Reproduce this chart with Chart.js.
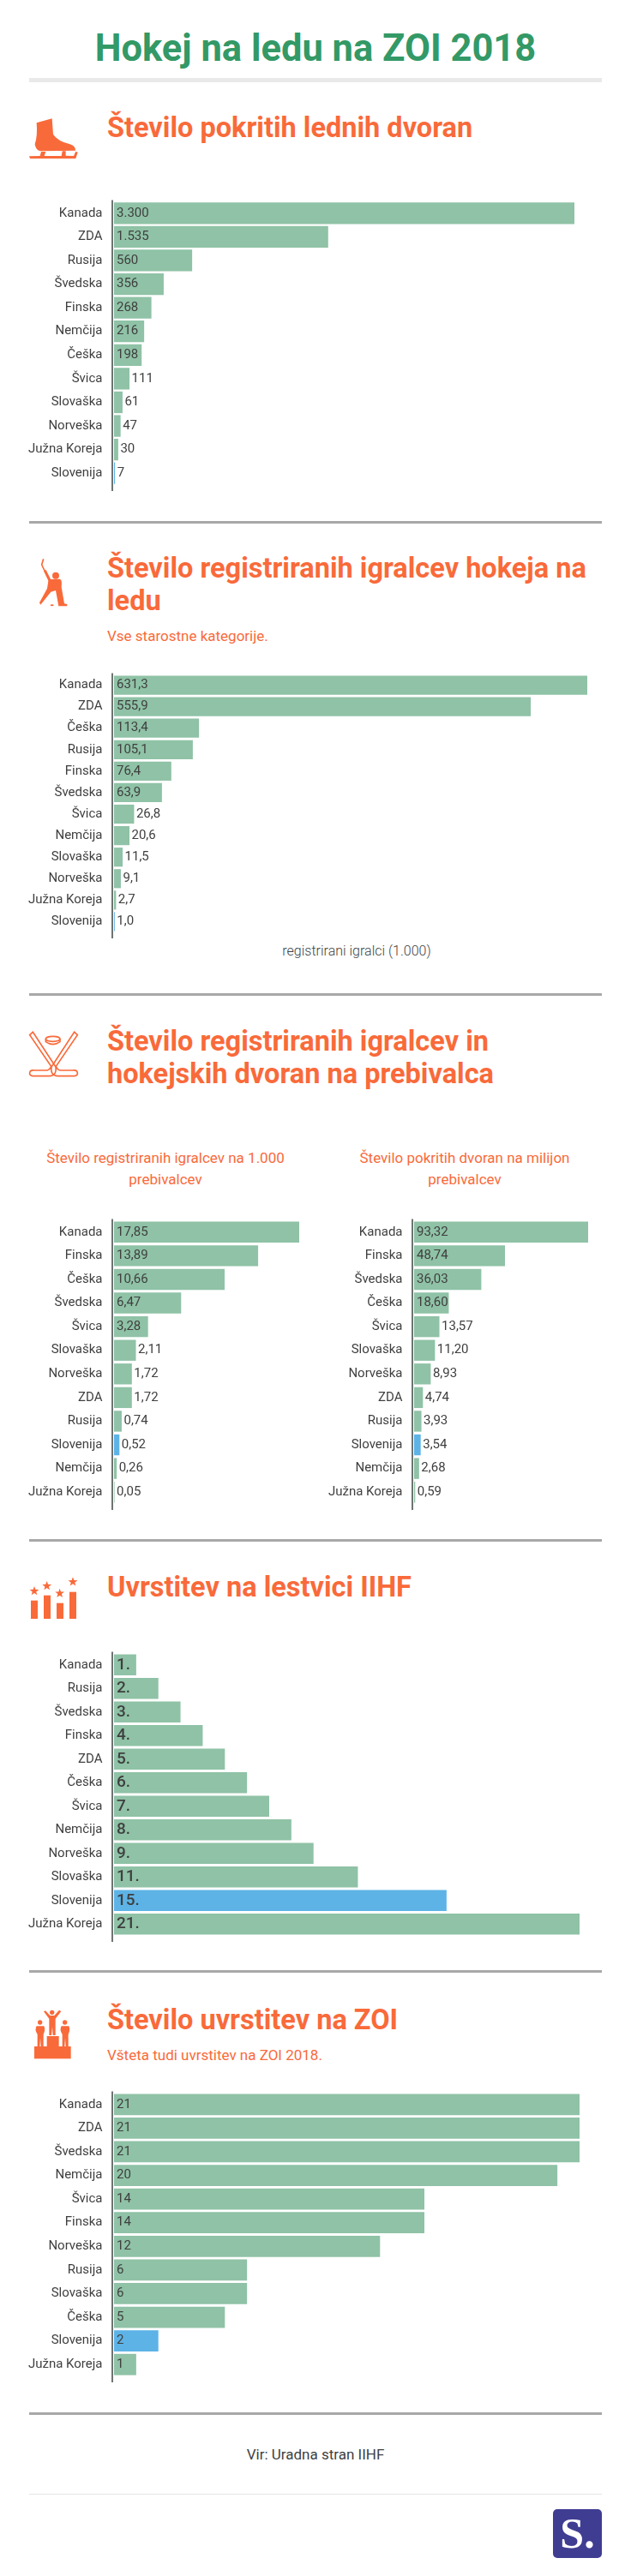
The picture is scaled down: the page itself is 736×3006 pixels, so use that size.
<!DOCTYPE html>
<html lang="sl">
<head>
<meta charset="utf-8">
<title>Hokej na ledu na ZOI 2018</title>
<script src="https://cdn.jsdelivr.net/npm/chart.js@4"></script>
<style>
    html, body { margin: 0; padding: 0; background: #fff; }
    body { position: relative; width: 736px; height: 3006px; overflow: hidden; font-family: Roboto, sans-serif; }
    body > * { position: absolute; }
    .naslov { left: 0; width: 736px; top: 30px; text-align: center; font-size: 43.5px; line-height: 54px; font-weight: 700; color: #339966; margin: 0; }
    .poglavje { left: 125px; font-size: 32.5px; line-height: 38px; font-weight: 700; color: #f96a3a; margin: 0; white-space: nowrap; }
    .pod { left: 125px; font-size: 17px; line-height: 22px; color: #f96a3a; white-space: nowrap; }
    .pod-graf { width: 320px; text-align: center; font-size: 17px; line-height: 25px; color: #f96a3a; }
    .crta { left: 34px; width: 668px; height: 2.5px; background: #a8a8a8; }
    .os { font-size: 16px; font-weight: 300; line-height: 20px; color: #3f3f3f; left: 316px; width: 200px; text-align: center; }
    .vir { left: 0; width: 736px; top: 2854px; text-align: center; font-size: 17px; line-height: 20px; color: #3f3f3f; }
    .logo { left: 645px; top: 2928px; width: 57px; height: 57px; border-radius: 5px; background: #3f3d92; color: #fff; font: 700 50px/57px "Liberation Serif", serif; text-align: center; }
    svg { fill: #f96a3a; }
    .obroba { fill: none; stroke: #f96a3a; stroke-width: 5; }
</style>
</head>
<body>

<h1 class="naslov">Hokej na ledu na ZOI 2018</h1>
<div class="crta" style="top:91px;height:5px;background:#e9e9e9"></div>

<svg style="left:20px;top:125px" width="90" height="70" viewBox="0 0 270 210">
    <path d="M68 55 L122 40 L126 95 Q140 118 185 130 Q205 137 204 152 L80 154 Q65 150 62 130 Q72 100 68 55 Z"/>
    <path d="M42 172 L80 171 L84 156 L100 156 L95 171 L155 171 L158 154 L170 154 L170 170 L198 171 L205 155 L212 158 L205 180 L45 180 Z"/>
</svg>
<h2 class="poglavje" style="top:130px">Število pokritih lednih dvoran</h2>
<canvas id="grafDvorane" style="left:0;top:231px"></canvas>
<div class="crta" style="top:608px"></div>

<svg style="left:20px;top:645px" width="90" height="70" viewBox="0 0 270 210">
    <path d="M92 22 L86 42 L110 92" style="fill:none;stroke:#f96a3a;stroke-width:5"/>
    <path d="M97 62 L118 105" style="fill:none;stroke:#f96a3a;stroke-width:9"/>
    <circle cx="135" cy="80" r="12"/>
    <path d="M110 93 L150 92 Q158 95 155 120 L165 178 L175 180 L175 187 L145 187 L135 132 L118 137 L82 182 L78 175 L105 125 Z"/>
    <ellipse cx="122" cy="184" rx="6" ry="3"/>
</svg>
<h2 class="poglavje" style="top:644px">Število registriranih igralcev hokeja na<br>ledu</h2>
<div class="pod" style="top:731px">Vse starostne kategorije.</div>
<canvas id="grafIgralci" style="left:0;top:783px"></canvas>
<div class="os" style="top:1100px">registrirani igralci (1.000)</div>
<div class="crta" style="top:1159px"></div>

<svg style="left:20px;top:1195px" width="90" height="70" viewBox="0 0 270 210">
    <path class="obroba" d="M44 38 L55 28 L135 150 Q140 178 115 182 L55 182 Q42 180 44 170 Q46 160 60 162 L105 162 Q115 160 119 148 Z"/>
    <path class="obroba" d="M211 38 L200 28 L120 150 Q115 178 140 182 L200 182 Q213 180 211 170 Q209 160 195 162 L150 162 Q140 160 136 148 Z"/>
    <ellipse class="obroba" cx="125" cy="52" rx="25" ry="9"/>
    <path class="obroba" d="M100 52 L100 62 Q125 80 150 62 L150 52"/>
</svg>
<h2 class="poglavje" style="top:1196px">Število registriranih igralcev in<br>hokejskih dvoran na prebivalca</h2>
<div class="pod-graf" style="left:33px;top:1339px">Število registriranih igralcev na 1.000 prebivalcev</div>
<div class="pod-graf" style="left:382px;top:1339px">Število pokritih dvoran na milijon prebivalcev</div>
<canvas id="grafIgralciPrebivalci" style="left:0;top:1420px"></canvas>
<canvas id="grafDvoranePrebivalci" style="left:350px;top:1420px"></canvas>
<div class="crta" style="top:1796px"></div>

<svg style="left:20px;top:1830px" width="90" height="70" viewBox="0 0 270 210">
    <defs>
        <path id="zvezda" d="M0 -17 L4.1 -5.7 L16.2 -5.3 L6.7 2.2 L10 13.8 L0 7 L-10 13.8 L-6.7 2.2 L-16.2 -5.3 L-4.1 -5.7 Z"/>
    </defs>
    <rect x="48" y="113" width="24" height="64"/>
    <rect x="93" y="95" width="24" height="82"/>
    <rect x="138" y="122" width="24" height="55"/>
    <rect x="183" y="83" width="24" height="94"/>
    <use href="#zvezda" x="60" y="80"/>
    <use href="#zvezda" x="104" y="62"/>
    <use href="#zvezda" x="149" y="88"/>
    <use href="#zvezda" x="195" y="48"/>
</svg>
<h2 class="poglavje" style="top:1833px">Uvrstitev na lestvici IIHF</h2>
<canvas id="grafLestvica" style="left:0;top:1925px"></canvas>
<div class="crta" style="top:2299px"></div>

<svg style="left:20px;top:2340px" width="90" height="70" viewBox="0 0 270 210">
    <rect x="60" y="144" width="128" height="43"/>
    <rect x="104" y="108" width="42" height="36"/>
    <circle cx="122" cy="25" r="8"/>
    <path d="M93 22 L99 19 L115 36 L130 36 L147 17 L154 21 L134 47 L134 105 L125 105 L123 75 L120 105 L112 105 L112 47 Z"/>
    <circle cx="80" cy="60" r="8"/>
    <path d="M68 73 L94 73 Q100 85 92 102 L92 144 L83 144 L81 115 L79 144 L71 144 L71 102 Q60 85 68 73 Z"/>
    <circle cx="167" cy="60" r="8"/>
    <path d="M155 73 L181 73 Q187 85 179 102 L179 144 L170 144 L168 115 L166 144 L158 144 L158 102 Q147 85 155 73 Z"/>
</svg>
<h2 class="poglavje" style="top:2338px">Število uvrstitev na ZOI</h2>
<div class="pod" style="top:2387px">Všteta tudi uvrstitev na ZOI 2018.</div>
<canvas id="grafZoi" style="left:0;top:2438px"></canvas>
<div class="crta" style="top:2815px"></div>

<div class="vir">Vir: Uradna stran IIHF</div>
<div class="crta" style="top:2910px;height:1px;background:#e5e5e5"></div>
<div class="logo">S.</div>

<script>
// pokrite dvorane
const drzaveDvorane = ['Kanada', 'ZDA', 'Rusija', 'Švedska', 'Finska', 'Nemčija', 'Češka', 'Švica', 'Slovaška', 'Norveška', 'Južna Koreja', 'Slovenija'];
const steviloDvoran = [3300, 1535, 560, 356, 268, 216, 198, 111, 61, 47, 30, 7];

// registrirani igralci (1.000)
const drzaveIgralci = ['Kanada', 'ZDA', 'Češka', 'Rusija', 'Finska', 'Švedska', 'Švica', 'Nemčija', 'Slovaška', 'Norveška', 'Južna Koreja', 'Slovenija'];
const steviloIgralcev = [631.3, 555.9, 113.4, 105.1, 76.4, 63.9, 26.8, 20.6, 11.5, 9.1, 2.7, 1.0];

// igralci na 1.000 prebivalcev
const drzaveIgralciPreb = ['Kanada', 'Finska', 'Češka', 'Švedska', 'Švica', 'Slovaška', 'Norveška', 'ZDA', 'Rusija', 'Slovenija', 'Nemčija', 'Južna Koreja'];
const igralciNaPrebivalca = [17.85, 13.89, 10.66, 6.47, 3.28, 2.11, 1.72, 1.72, 0.74, 0.52, 0.26, 0.05];

// dvorane na milijon prebivalcev
const drzaveDvoranePreb = ['Kanada', 'Finska', 'Švedska', 'Češka', 'Švica', 'Slovaška', 'Norveška', 'ZDA', 'Rusija', 'Slovenija', 'Nemčija', 'Južna Koreja'];
const dvoraneNaPrebivalca = [93.32, 48.74, 36.03, 18.60, 13.57, 11.20, 8.93, 4.74, 3.93, 3.54, 2.68, 0.59];

// lestvica IIHF
const drzaveLestvica = ['Kanada', 'Rusija', 'Švedska', 'Finska', 'ZDA', 'Češka', 'Švica', 'Nemčija', 'Norveška', 'Slovaška', 'Slovenija', 'Južna Koreja'];
const uvrstitevIihf = [1, 2, 3, 4, 5, 6, 7, 8, 9, 11, 15, 21];

// uvrstitve na ZOI
const drzaveZoi = ['Kanada', 'ZDA', 'Švedska', 'Nemčija', 'Švica', 'Finska', 'Norveška', 'Rusija', 'Slovaška', 'Češka', 'Slovenija', 'Južna Koreja'];
const uvrstitveZoi = [21, 21, 21, 20, 14, 14, 12, 6, 6, 5, 2, 1];

const ZELENA = '#8fc2a6';
const MODRA = '#5db3e6';
const TEMNA = '#3f3f3f';

Chart.defaults.font.family = 'Roboto, sans-serif';

// vrednosti ob stolpcih: znotraj, ce je stolpec dovolj dolg, sicer desno od njega
const oznakePlugin = {
    id: 'oznake',
    afterDatasetsDraw(chart, args, opts) {
        const ctx = chart.ctx;
        const bars = chart.getDatasetMeta(0).data;
        ctx.save();
        ctx.font = opts.pisava;
        ctx.fillStyle = TEMNA;
        ctx.textBaseline = 'middle';
        bars.forEach((bar, i) => {
            const tekst = opts.format(chart.data.datasets[0].data[i]);
            const w = ctx.measureText(tekst).width;
            const znotraj = w + 3 < bar.x - chart.chartArea.left;
            const x = znotraj ? chart.chartArea.left + 3 : bar.x + 2.5;
            ctx.fillText(tekst, x, bar.y);
        });
        // navpicna os je daljsa od zadnjega stolpca
        ctx.strokeStyle = '#3c4643';
        ctx.lineWidth = 1.5;
        ctx.beginPath();
        ctx.moveTo(chart.chartArea.left - 2, chart.chartArea.top - 1.5);
        ctx.lineTo(chart.chartArea.left - 2, chart.chartArea.bottom + 7);
        ctx.stroke();
        ctx.restore();
    }
};

function narisiGraf(id, drzave, vrednosti, konec, zgoraj, spodaj, debelina, format, pisava) {
    const canvas = document.getElementById(id);
    canvas.width = konec;
    canvas.height = spodaj + 10;
    canvas.style.width = canvas.width + 'px';
    canvas.style.height = canvas.height + 'px';

    return new Chart(canvas, {
        type: 'bar',
        data: {
            labels: drzave,
            datasets: [{
                data: vrednosti,
                backgroundColor: drzave.map(d => d === 'Slovenija' ? MODRA : ZELENA),
                categoryPercentage: 1,
                barPercentage: debelina
            }]
        },
        options: {
            indexAxis: 'y',
            responsive: false,
            animation: false,
            devicePixelRatio: 1,
            layout: { padding: { top: zgoraj, bottom: 10 } },
            scales: {
                x: { display: false, min: 0, max: Math.max(...vrednosti) },
                y: {
                    grid: { display: false, drawTicks: false },
                    border: { display: false },
                    ticks: { color: TEMNA, padding: 13.5, font: { size: 15 }, autoSkip: false },
                    // sirina osi je fiksna, ticks.padding pa ne sme dodajati prostora zgoraj in spodaj
                    afterFit: scale => {
                        scale.width = 133;
                        scale.paddingTop = 0;
                        scale.paddingBottom = 0;
                    }
                }
            },
            plugins: {
                legend: { display: false },
                tooltip: { enabled: false },
                title: { display: false },
                oznake: { format: format, pisava: pisava }
            }
        },
        plugins: [oznakePlugin]
    });
}

const tisoc = v => v.toLocaleString('de-DE');
const enoMesto = v => v.toLocaleString('de-DE', { minimumFractionDigits: 1, maximumFractionDigits: 1 });
const dveMesti = v => v.toLocaleString('de-DE', { minimumFractionDigits: 2, maximumFractionDigits: 2 });
const PISAVA = '15px Roboto, sans-serif';

narisiGraf('grafDvorane', drzaveDvorane, steviloDvoran, 670, 4, 335, 0.917, tisoc, PISAVA);
narisiGraf('grafIgralci', drzaveIgralci, steviloIgralcev, 685, 4, 305, 0.885, enoMesto, PISAVA);
narisiGraf('grafIgralciPrebivalci', drzaveIgralciPreb, igralciNaPrebivalca, 349, 4, 335, 0.884, dveMesti, PISAVA);
narisiGraf('grafDvoranePrebivalci', drzaveDvoranePreb, dvoraneNaPrebivalca, 336, 4, 335, 0.884, dveMesti, PISAVA);
narisiGraf('grafLestvica', drzaveLestvica, uvrstitevIihf, 676, 4, 334, 0.89, v => v + '.', '500 19px Roboto, sans-serif');
narisiGraf('grafZoi', drzaveZoi, uvrstitveZoi, 676, 4, 335, 0.9, v => String(v), PISAVA);
</script>
</body>
</html>
